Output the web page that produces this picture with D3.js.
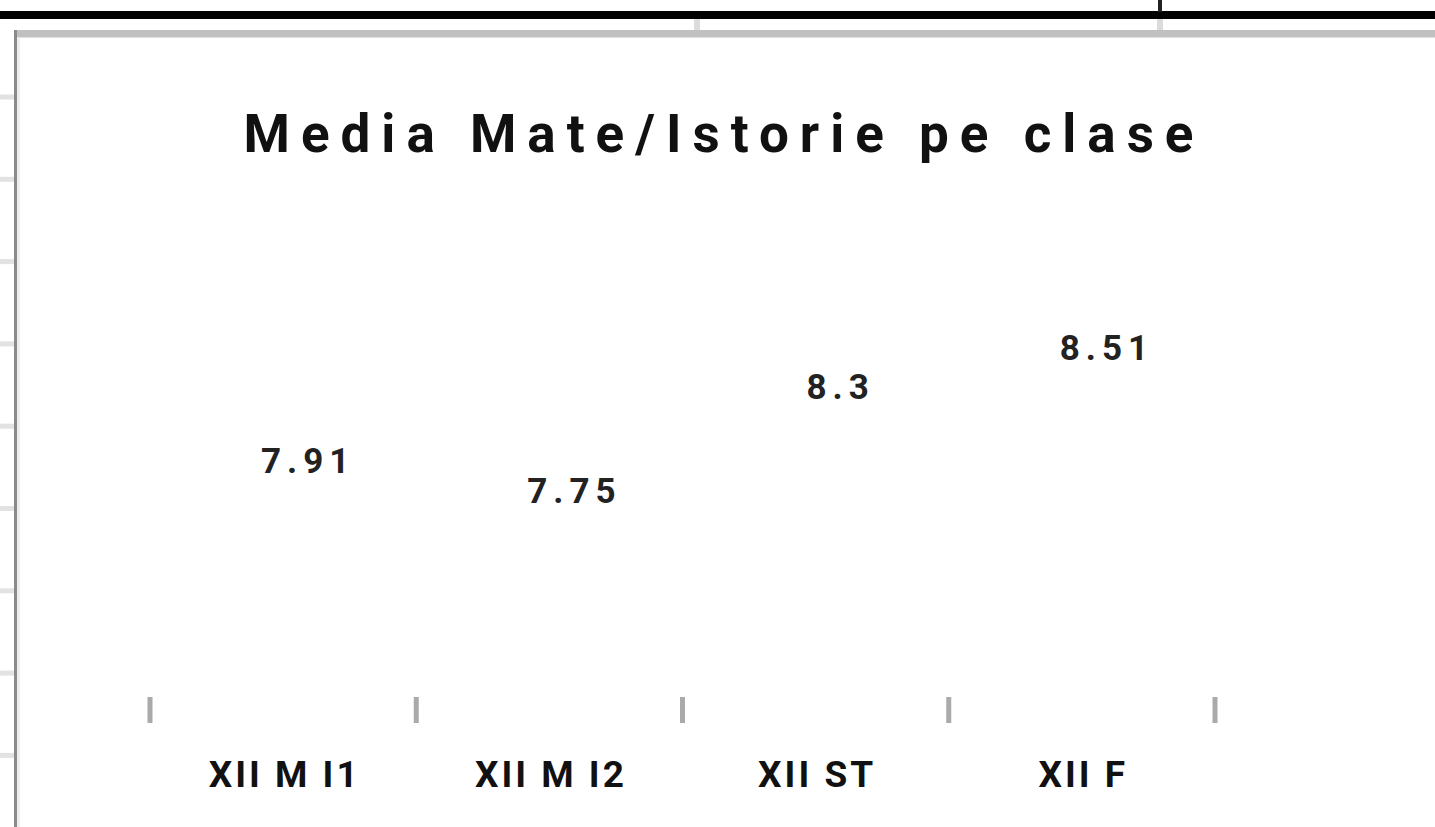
<!DOCTYPE html>
<html>
<head>
<meta charset="utf-8">
<script src="https://cdn.jsdelivr.net/npm/d3@7"></script>
<style>
  html, body { margin: 0; padding: 0; background: #fff; }
  svg { display: block; }
</style>
</head>
<body>
<div id="chart"></div>
<script>
const title = "Media Mate/Istorie pe clase"
const categories = ["XII M I1", "XII M I2", "XII ST", "XII F"]
const averages = [7.91, 7.75, 8.3, 8.51]

const width = 1435
const height = 827

const svg = d3.select("#chart").append("svg")
    .attr("width", width)
    .attr("height", height)
    .style("font-family", "Roboto, 'Liberation Sans', sans-serif")

// spreadsheet bits around the chart object
svg.append("line")
    .attr("x1", 0).attr("x2", width)
    .attr("y1", 15).attr("y2", 15)
    .attr("stroke", "#000")
    .attr("stroke-width", 8)

svg.append("rect")
    .attr("x", 1158).attr("y", 0)
    .attr("width", 4).attr("height", 12)
    .attr("fill", "#222")

svg.selectAll(".colLine")
    .data([694, 1157])
    .enter().append("rect")
    .attr("class", "colLine")
    .attr("x", d => d).attr("y", 19)
    .attr("width", 6).attr("height", 12)
    .attr("fill", "#dcdcdc")

svg.selectAll(".rowStub")
    .data(d3.range(9))
    .enter().append("rect")
    .attr("class", "rowStub")
    .attr("x", 0)
    .attr("y", d => 94.5 + d * 82.3)
    .attr("width", 14).attr("height", 5)
    .attr("fill", "#e2e2e2")

// chart frame
svg.append("rect")
    .attr("x", 14).attr("y", 30)
    .attr("width", width - 14).attr("height", 7.5)
    .attr("fill", "#c0c0c0")
svg.append("rect")
    .attr("x", 14).attr("y", 30)
    .attr("width", 3).attr("height", height - 30)
    .attr("fill", "#8a8a8a")
svg.append("rect")
    .attr("x", 17).attr("y", 37.5)
    .attr("width", 3).attr("height", height - 37.5)
    .attr("fill", "#efefef")

// title
svg.append("text")
    .attr("x", 719)
    .attr("y", 152)
    .attr("dx", 5)
    .attr("text-anchor", "middle")
    .attr("font-size", 53)
    .attr("font-weight", "bold")
    .attr("letter-spacing", 11)
    .attr("fill", "#111")
    .text(title)

const x = d3.scaleBand()
    .domain(categories)
    .range([150, 1215])

const y = d3.scaleLinear()
    .domain([6.78, 9])
    .range([697, 277])

// bars are white in the original, only their labels show
svg.selectAll(".bar")
    .data(averages)
    .enter().append("rect")
    .attr("class", "bar")
    .attr("x", (d, i) => x(categories[i]) + x.bandwidth() * 0.2)
    .attr("y", d => y(d))
    .attr("width", x.bandwidth() * 0.6)
    .attr("height", d => y.range()[0] - y(d))
    .attr("fill", "#fff")

svg.selectAll(".valueLabel")
    .data(averages)
    .enter().append("text")
    .attr("class", "valueLabel")
    .attr("x", (d, i) => x(categories[i]) + x.bandwidth() / 2 + 22)
    .attr("y", d => y(d) - 10)
    .attr("dx", 3)
    .attr("text-anchor", "middle")
    .attr("font-size", 35)
    .attr("font-weight", "bold")
    .attr("letter-spacing", 6)
    .attr("fill", "#222")
    .text(d => d)

// category axis: ticks sit on band edges, no domain line
const edges = categories.map(c => x(c)).concat([x.range()[1]])
svg.selectAll(".tick")
    .data(edges)
    .enter().append("rect")
    .attr("class", "tick")
    .attr("x", d => d - 2.5)
    .attr("y", 697)
    .attr("width", 5)
    .attr("height", 26)
    .attr("fill", "#aaa")

svg.selectAll(".catLabel")
    .data(categories)
    .enter().append("text")
    .attr("class", "catLabel")
    .attr("x", d => x(d) + x.bandwidth() / 2)
    .attr("y", 787)
    .attr("dx", 1.5)
    .attr("text-anchor", "middle")
    .attr("font-size", 37)
    .attr("font-weight", "bold")
    .attr("letter-spacing", 3)
    .attr("fill", "#111")
    .text(d => d)
</script>
</body>
</html>
